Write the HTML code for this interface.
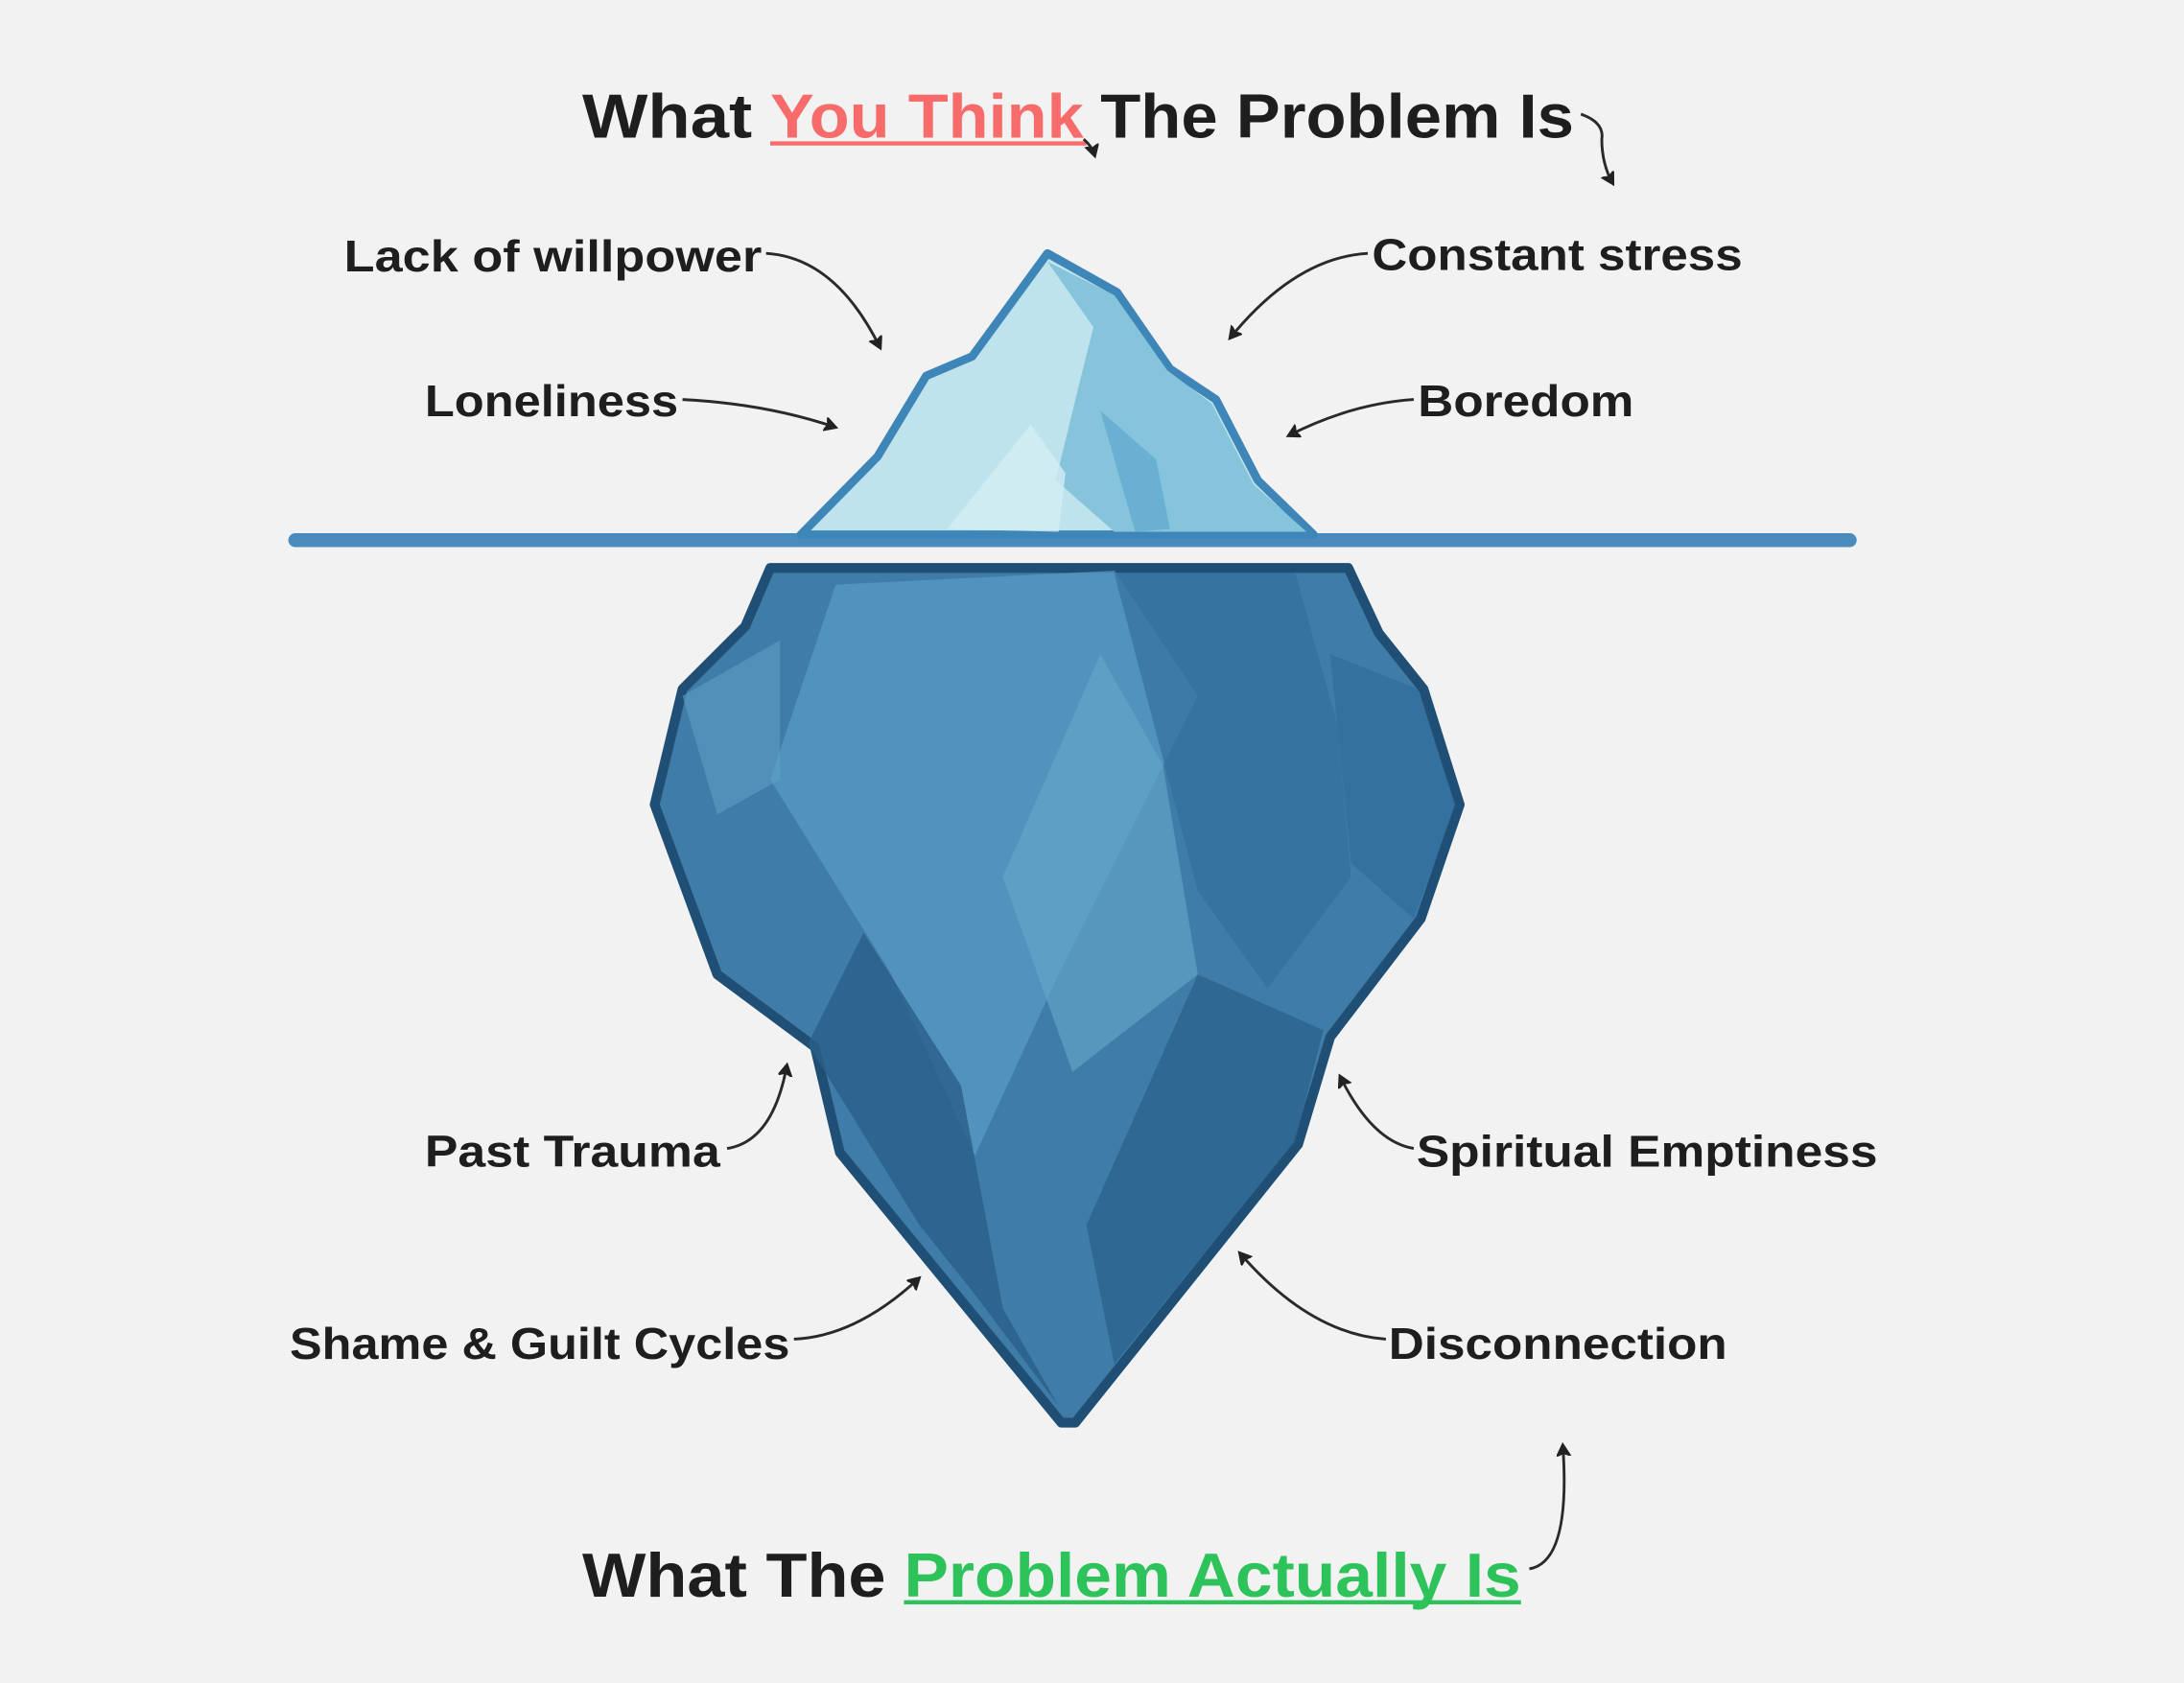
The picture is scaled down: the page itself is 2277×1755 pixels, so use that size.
<!DOCTYPE html>
<html><head><meta charset="utf-8"><style>
html,body{margin:0;padding:0;background:#f2f2f2;}
svg{display:block;}
text{font-family:"Liberation Sans","DejaVu Sans",sans-serif;font-weight:bold;fill:#1e1e1e;}
</style></head><body>
<svg width="2277" height="1755" viewBox="0 0 1568 1209" preserveAspectRatio="none" xmlns="http://www.w3.org/2000/svg">
<defs>
<marker id="ah" markerWidth="12" markerHeight="12" refX="8" refY="5" orient="auto" markerUnits="userSpaceOnUse">
<path d="M0,0 L9,5 L0,10 L2,5 Z" fill="#222" stroke="#222" stroke-width="1"/>
</marker>
</defs>
<rect width="1568" height="1209" fill="#f2f2f2"/>

<!-- Titles -->
<g font-size="45">
<text x="418" y="99" textLength="122" lengthAdjust="spacingAndGlyphs">What</text>
<text x="553" y="99" fill="#f76b6b" style="fill:#f76b6b" textLength="225" lengthAdjust="spacingAndGlyphs">You Think</text>
<text x="790" y="99" textLength="340" lengthAdjust="spacingAndGlyphs">The Problem Is</text>
<text x="418" y="1147" textLength="218" lengthAdjust="spacingAndGlyphs">What The</text>
<text x="649" y="1147" style="fill:#2ec25b" textLength="443" lengthAdjust="spacingAndGlyphs">Problem Actually Is</text>
</g>
<line x1="553" y1="103" x2="780" y2="103" stroke="#f76b6b" stroke-width="3"/>
<line x1="649" y1="1151" x2="1092" y2="1151" stroke="#2ec25b" stroke-width="3"/>

<!-- underwater iceberg -->
<polygon points="553,408 968,408 990,455 1022,495 1048,578 1020,660 955,745 932,822 772,1022 762,1022 603,828 585,752 515,700 470,578 490,495 535,450" fill="#3f7ca8" stroke="#1f4f75" stroke-width="7" stroke-linejoin="round"/>
<polygon points="553,560 600,420 800,410 860,500 830,560 760,700 700,830 640,700" fill="#5a9cc4" opacity="0.7"/>
<polygon points="720,630 790,470 835,550 860,700 770,770" fill="#68a8cc" opacity="0.6"/>
<polygon points="800,412 930,412 960,520 970,630 910,710 860,640" fill="#356f9c" opacity="0.7"/>
<polygon points="580,750 620,670 690,780 720,940 760,1010 700,930 660,880" fill="#2a5f8a" opacity="0.8"/>
<polygon points="860,700 950,740 930,820 800,980 780,880" fill="#2a5f8a" opacity="0.7"/>
<polygon points="490,500 560,460 560,560 515,585" fill="#5f9ec6" opacity="0.6"/>
<polygon points="955,470 1018,495 1045,578 1015,660 970,620" fill="#2f6a98" opacity="0.6"/>

<!-- waterline -->
<line x1="212" y1="388" x2="1328" y2="388" stroke="#4a8bbd" stroke-width="10" stroke-linecap="round"/>

<!-- tip -->
<polygon points="575,384 630,328 665,270 698,256 752,182 802,210 840,265 873,287 903,345 943,384" fill="#bfe3ec" stroke="#3f86b8" stroke-width="6" stroke-linejoin="round"/>
<polygon points="752,188 800,212 838,266 870,290 900,348 938,382 800,382 758,345 775,275 785,235" fill="#86c4dc"/>
<polygon points="790,295 830,330 840,380 815,382" fill="#6ab0d2"/>
<polygon points="680,380 740,305 765,340 760,382" fill="#d2eef4" opacity="0.8"/>

<!-- labels -->
<g font-size="32">
<text x="247" y="195" textLength="300" lengthAdjust="spacingAndGlyphs">Lack of willpower</text>
<text x="305" y="299" textLength="182" lengthAdjust="spacingAndGlyphs">Loneliness</text>
<text x="985" y="194" textLength="266" lengthAdjust="spacingAndGlyphs">Constant stress</text>
<text x="1018" y="299" textLength="155" lengthAdjust="spacingAndGlyphs">Boredom</text>
<text x="305" y="838" textLength="212" lengthAdjust="spacingAndGlyphs">Past Trauma</text>
<text x="208" y="976" textLength="359" lengthAdjust="spacingAndGlyphs">Shame &amp; Guilt Cycles</text>
<text x="1017" y="838" textLength="331" lengthAdjust="spacingAndGlyphs">Spiritual Emptiness</text>
<text x="997" y="976" textLength="243" lengthAdjust="spacingAndGlyphs">Disconnection</text>
</g>

<!-- arrows -->
<g fill="none" stroke="#2a2a2a" stroke-width="2" marker-end="url(#ah)">
<path d="M778,100 Q784,105 786,112"/>
<path d="M1135,82 Q1152,88 1150,100 Q1150,118 1158,132"/>
<path d="M550,182 Q600,185 632,250"/>
<path d="M490,287 Q550,290 600,307"/>
<path d="M982,182 Q930,185 883,243"/>
<path d="M1015,287 Q970,290 925,313"/>
<path d="M522,825 Q555,820 565,765"/>
<path d="M570,962 Q615,960 660,918"/>
<path d="M1015,825 Q985,820 962,773"/>
<path d="M995,962 Q940,958 890,900"/>
<path d="M1098,1127 Q1128,1122 1122,1038"/>
</g>
</svg>
</body></html>
